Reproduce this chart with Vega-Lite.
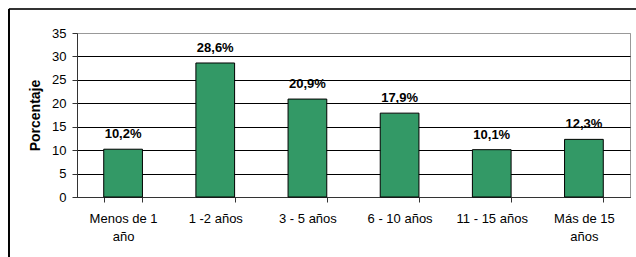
{
  "$schema": "https://vega.github.io/schema/vega-lite/v6.json",
  "width": 553,
  "height": 164,
  "autosize": {"type": "none"},
  "padding": {"left": 77, "top": 33, "right": 6, "bottom": 60},
  "background": "white",
  "config": {
    "font": "Liberation Sans",
    "view": {"stroke": "#999999", "strokeWidth": 1}
  },
  "data": {
    "values": [
      {"cat": "Menos de 1 año", "pct": 10.2, "label": "10,2%"},
      {"cat": "1 -2 años", "pct": 28.6, "label": "28,6%"},
      {"cat": "3 - 5 años", "pct": 20.9, "label": "20,9%"},
      {"cat": "6 - 10 años", "pct": 17.9, "label": "17,9%"},
      {"cat": "11 - 15 años", "pct": 10.1, "label": "10,1%"},
      {"cat": "Más de 15 años", "pct": 12.3, "label": "12,3%"}
    ]
  },
  "layer": [
    {
      "encoding": {
        "x": {
          "field": "cat", "type": "nominal", "sort": null,
          "scale": {"paddingInner": 0.58, "paddingOuter": 0.29},
          "axis": {
            "title": null, "labelAngle": 0, "labelFontSize": 13, "labelColor": "#000000",
            "labelExpr": "datum.label == 'Menos de 1 año' ? ['Menos de 1', 'año'] : datum.label == 'Más de 15 años' ? ['Más de 15', 'años'] : datum.label",
            "labelLineHeight": 18, "labelPadding": 10, "tickBand": "extent", "tickSize": 5,
            "tickColor": "#333333", "domainColor": "#333333", "grid": false
          }
        },
        "y": {
          "field": "pct", "type": "quantitative",
          "scale": {"domain": [0, 35], "nice": false},
          "axis": {
            "title": "Porcentaje", "titleFontSize": 14, "titleFontWeight": "bold", "titleColor": "#000000",
            "titlePadding": 9,
            "values": [0, 5, 10, 15, 20, 25, 30, 35],
            "labelFontSize": 13, "labelColor": "#000000", "labelPadding": 6,
            "tickSize": 5, "tickColor": "#333333", "domainColor": "#333333",
            "grid": true,
            "gridColor": {"condition": {"test": "datum.value == 35", "value": "#999999"}, "value": "#000000"},
            "gridOpacity": 1
          }
        }
      },
      "layer": [
        {"mark": {"type": "bar", "color": "#339966", "stroke": "#000000", "strokeWidth": 1}},
        {
          "mark": {"type": "text", "fontSize": 13, "fontWeight": "bold", "baseline": "alphabetic", "dy": -11, "color": "#000000"},
          "encoding": {"text": {"field": "label"}}
        }
      ]
    },
    {
      "mark": {"type": "rule", "color": "#333333", "strokeWidth": 2, "clip": false},
      "encoding": {
        "x": {"datum": -0.123, "type": "quantitative", "scale": {"domain": [0, 1], "nice": false, "zero": false}, "axis": null},
        "x2": {"datum": 1.02},
        "y": {"datum": 40.1, "type": "quantitative", "scale": {"domain": [0, 35], "nice": false, "zero": false}, "axis": null}
      }
    },
    {
      "mark": {"type": "rule", "color": "#000000", "strokeWidth": 1, "clip": false},
      "encoding": {
        "x": {"datum": -0.123, "type": "quantitative", "scale": {"domain": [0, 1], "nice": false, "zero": false}, "axis": null},
        "y": {"datum": 40.1, "type": "quantitative", "scale": {"domain": [0, 35], "nice": false, "zero": false}, "axis": null},
        "y2": {"datum": -13}
      }
    }
  ],
  "resolve": {"scale": {"x": "independent", "y": "independent"}}
}
